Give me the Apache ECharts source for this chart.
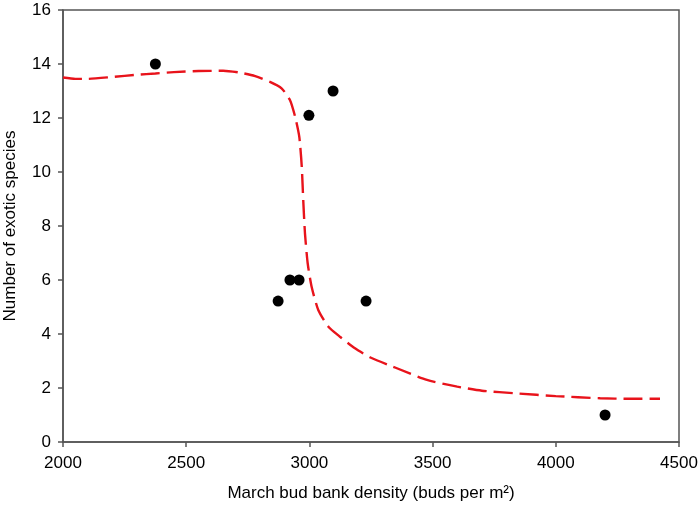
<!DOCTYPE html>
<html><head><meta charset="utf-8">
<script src="https://cdn.jsdelivr.net/npm/echarts@6/dist/echarts.min.js"></script>
<style>html,body{margin:0;padding:0;background:#fff}#c{width:700px;height:506px}</style>
</head><body><div id="c"></div>
<script>
const obsX = [2375, 2873, 2921, 2958, 2998, 3096, 3230, 4200];
const obsY = [14.0, 5.22, 6.0, 6.0, 12.1, 13.0, 5.22, 1.0];
const fitX = [2000,2050,2100,2200,2300,2375,2450,2550,2650,2718,2780,2840,2887,2921,2942,2959,2969,2975,2982,2993,3009,3036,3077,3124,3185,3250,3350,3477,3600,3700,3842,4000,4180,4300,4423];
const fitY = [13.5,13.45,13.45,13.52,13.6,13.65,13.7,13.74,13.75,13.68,13.55,13.34,13.1,12.67,12.05,11.3,10.2,8.96,7.73,6.62,5.75,4.89,4.27,3.9,3.47,3.12,2.75,2.3,2.05,1.9,1.8,1.7,1.62,1.6,1.6];
const xTicks = [2000, 2500, 3000, 3500, 4000, 4500];
const yTicks = [0, 2, 4, 6, 8, 10, 12, 14, 16];

const font = 'Liberation Sans, Arial, Helvetica, sans-serif';
const axisCol = '#555';
const chart = echarts.init(document.getElementById('c'), null, {renderer: 'canvas'});
chart.setOption({
  animation: false,
  backgroundColor: '#fff',
  grid: {left: 63, right: 21, top: 10, bottom: 64, show: true, borderColor: axisCol, borderWidth: 1.5, outerBoundsMode: 'none', containLabel: false},
  xAxis: {
    type: 'value', min: xTicks[0], max: xTicks[xTicks.length-1], interval: 500,
    name: 'March bud bank density (buds per m\u00b2)', nameLocation: 'middle', nameGap: 43,
    nameTextStyle: {fontFamily: font, fontSize: 17, color: '#000'},
    axisLine: {show: true, lineStyle: {color: axisCol, width: 1.5}},
    axisTick: {show: true, inside: false, length: 5, lineStyle: {color: axisCol, width: 1.5}},
    axisLabel: {fontFamily: font, fontSize: 17, color: '#000', margin: 13, formatter: v => String(v)},
    splitLine: {show: false}
  },
  yAxis: {
    type: 'value', min: yTicks[0], max: yTicks[yTicks.length-1], interval: 2,
    name: 'Number of exotic species', nameLocation: 'middle', nameGap: 44,
    nameTextStyle: {fontFamily: font, fontSize: 17, color: '#000'},
    axisLine: {show: true, lineStyle: {color: axisCol, width: 1.5}},
    axisTick: {show: true, inside: false, length: 5, lineStyle: {color: axisCol, width: 1.5}},
    axisLabel: {fontFamily: font, fontSize: 17, color: '#000', margin: 12, formatter: v => String(v)},
    splitLine: {show: false}
  },
  series: [
    {
      type: 'line', data: fitX.map((x, i) => [x, fitY[i]]), showSymbol: false, smooth: 0.2,
      lineStyle: {color: '#e8131b', width: 2.4, type: [19, 7]}, z: 2
    },
    {
      type: 'scatter', data: obsX.map((x, i) => [x, obsY[i]]), symbol: 'circle', symbolSize: 11,
      itemStyle: {color: '#000', opacity: 1}, z: 3
    }
  ]
});
</script></body></html>
